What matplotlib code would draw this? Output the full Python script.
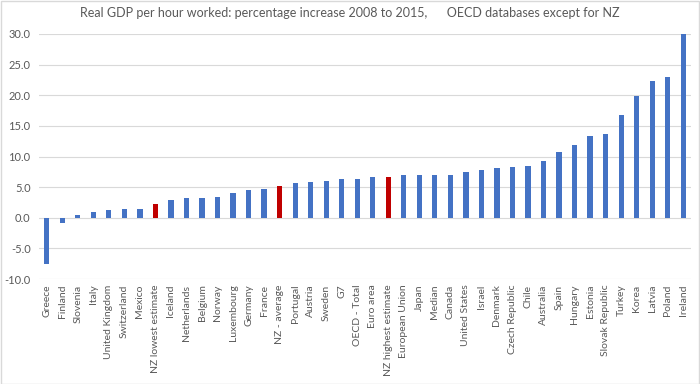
import matplotlib
matplotlib.use("Agg")
import matplotlib.pyplot as plt
from matplotlib.patches import Rectangle

categories = ["Greece", "Finland", "Slovenia", "Italy", "United Kingdom", "Switzerland",
              "Mexico", "NZ lowest estimate", "Iceland", "Netherlands", "Belgium", "Norway",
              "Luxembourg", "Germany", "France", "NZ - average", "Portugal", "Austria",
              "Sweden", "G7", "OECD - Total", "Euro area", "NZ highest estimate",
              "European Union", "Japan", "Median", "Canada", "United States", "Israel",
              "Denmark", "Czech Republic", "Chile", "Australia", "Spain", "Hungary",
              "Estonia", "Slovak Republic", "Turkey", "Korea", "Latvia", "Poland", "Ireland"]
values = [-7.6, -0.8, 0.5, 1.0, 1.3, 1.5, 1.5, 2.3, 2.9, 3.3, 3.3, 3.4,
          4.1, 4.6, 4.7, 5.2, 5.7, 5.9, 6.0, 6.3, 6.3, 6.6, 6.7,
          6.9, 7.0, 7.0, 7.0, 7.5, 7.8, 8.2, 8.3, 8.4, 9.3, 10.7, 11.9,
          13.4, 13.7, 16.7, 19.8, 22.3, 23.0, 30.0]
highlight = ["NZ lowest estimate", "NZ - average", "NZ highest estimate"]
yticks = [-10, -5, 0, 5, 10, 15, 20, 25, 30]
title = "Real GDP per hour worked: percentage increase 2008 to 2015,      OECD databases except for NZ"

plt.rcParams['font.family'] = ['Lato', 'DejaVu Sans']

fig = plt.figure(figsize=(7, 3.84), dpi=100)
ax = fig.add_axes([39/700, 1 - 279/384, (691-39)/700, (279-34)/384])

colors = ["#C00000" if c in highlight else "#4472C4" for c in categories]
x = list(range(len(categories)))
ax.bar(x, values, width=0.34, color=colors, zorder=3)

ax.set_xlim(-0.5, len(categories) - 0.5)
ax.set_ylim(-10, 30)
ax.set_yticks(yticks)
ax.set_yticklabels([f"{v:.1f}" for v in yticks], fontsize=8, color="#595959")
ax.set_xticks(x)
ax.set_xticklabels(categories, rotation=90, fontsize=7.5, color="#595959")
ax.tick_params(axis="both", length=0, pad=4)
ax.tick_params(axis="y", pad=6)
ax.grid(axis="y", color="#D9D9D9", linewidth=0.8, zorder=0)
for s in ax.spines.values():
    s.set_visible(False)

fig.text(0.5, 1 - 13/384, title, ha="center", va="center", fontsize=9, color="#595959")
fig.patches.append(Rectangle((0.001, 0.001), 0.997, 0.997, transform=fig.transFigure,
                             fill=False, edgecolor="#D9D9D9", linewidth=1))

fig.savefig("out.png", dpi=100)
